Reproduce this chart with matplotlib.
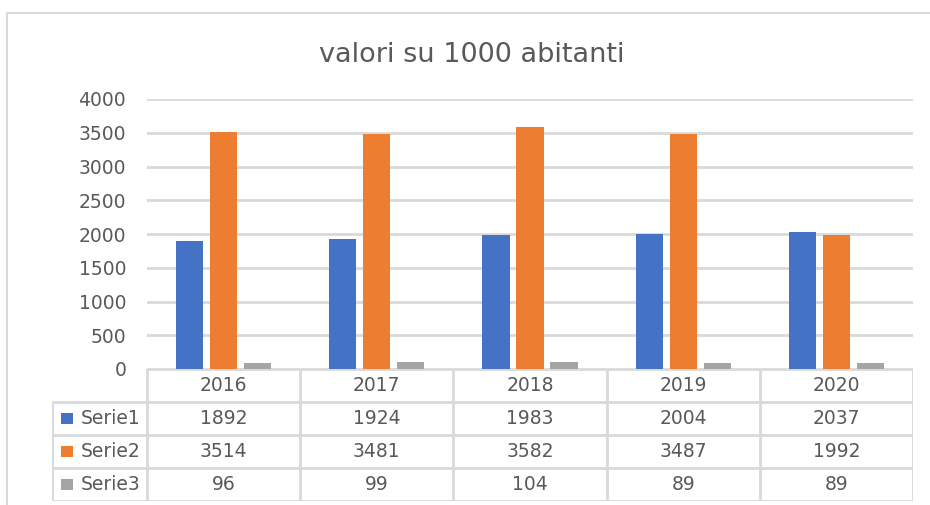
import matplotlib
matplotlib.use("Agg")
import matplotlib.pyplot as plt
from matplotlib.patches import Rectangle
import numpy as np

plt.rcParams['font.family'] = ['DejaVu Sans']

# --- dati ---
anni = ['2016', '2017', '2018', '2019', '2020']
serie_nomi = ['Serie1', 'Serie2', 'Serie3']
serie1 = [1892, 1924, 1983, 2004, 2037]
serie2 = [3514, 3481, 3582, 3487, 1992]
serie3 = [96, 99, 104, 89, 89]
colori = ['#4472C4', '#ED7D31', '#A5A5A5']

TXT = '#595959'
GRID = '#D9D9D9'
W, H = 930, 505
FS = 13.5

fig = plt.figure(figsize=(W / 100, H / 100), dpi=100)

# cornice del grafico (tagliata a destra e in basso)
fig.patches.append(Rectangle((7 / W, -0.1), 1.2, (H - 13) / H + 0.1,
                             transform=fig.transFigure, fill=False,
                             edgecolor=GRID, lw=1.5))

fig.text(472 / W, (H - 55) / H, 'valori su 1000 abitanti', ha='center',
         va='center', fontsize=19.5, color=TXT)

# --- barre ---
ax = fig.add_axes([147 / W, (H - 369) / H, (913 - 147) / W, 270 / H])
x = np.arange(len(anni))
bw, step = 0.177, 0.222
for i, (vals, col) in enumerate(zip([serie1, serie2, serie3], colori)):
    ax.bar(x + (i - 1) * step, vals, width=bw, color=col, zorder=3)

ax.set_xlim(-0.5, len(anni) - 0.5)
ax.set_ylim(0, 4000)
ax.set_yticks(range(0, 4001, 500))
ax.yaxis.grid(True, color=GRID, lw=2, zorder=0)
ax.set_xticks([])
ax.tick_params(axis='y', length=0, pad=15, labelsize=FS, labelcolor=TXT)
for s in ax.spines.values():
    s.set_visible(False)

# --- tabella dati ---
left_col = -0.5 - (147 - 52) / ((913 - 147) / 5)
tb = fig.add_axes([52 / W, (H - 501) / H, (913 - 52) / W, 132 / H])
tb.set_xlim(left_col, len(anni) - 0.5)
tb.set_ylim(0, 4)
tb.axis('off')

lk = dict(color=GRID, lw=2, solid_capstyle='projecting')
for xb in np.arange(-0.5, len(anni), 1.0):
    tb.plot([xb, xb], [0, 4], **lk)
tb.plot([left_col, left_col], [0, 3], **lk)
for yb in [0, 1, 2, 3]:
    tb.plot([left_col, len(anni) - 0.5], [yb, yb], **lk)
tb.plot([-0.5, len(anni) - 0.5], [4, 4], **lk)

for j, a in enumerate(anni):
    tb.text(j, 3.5, a, ha='center', va='center', fontsize=FS, color=TXT)

righe = [serie1, serie2, serie3]
px = (913 - 52) / (len(anni) - 0.5 - left_col)
for r, (nome, vals, col) in enumerate(zip(serie_nomi, righe, colori)):
    yc = 2.5 - r
    tb.add_patch(Rectangle((left_col + 9 / px, yc - 0.18), 12 / px, 0.36,
                           color=col, lw=0))
    tb.text(left_col + 29 / px, yc, nome, ha='left', va='center',
            fontsize=FS, color=TXT)
    for j, v in enumerate(vals):
        tb.text(j, yc, str(v), ha='center', va='center', fontsize=FS, color=TXT)

fig.savefig('out.png', dpi=100)
